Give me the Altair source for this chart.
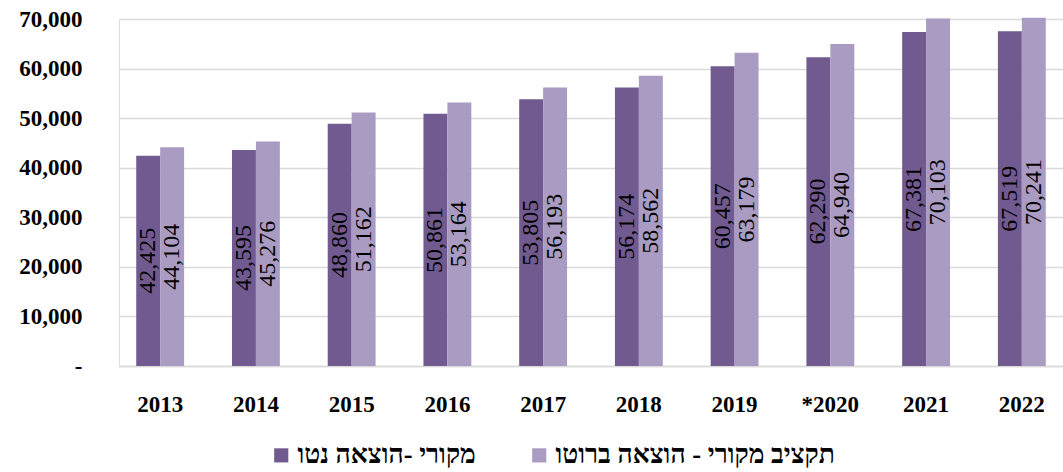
import altair as alt
import pandas as pd

years = ["2013", "2014", "2015", "2016", "2017", "2018", "2019", "*2020", "2021", "2022"]
net = [42425, 43595, 48860, 50861, 53805, 56174, 60457, 62290, 67381, 67519]
gross = [44104, 45276, 51162, 53164, 56193, 58562, 63179, 64940, 70103, 70241]
series_names = ["מקורי -הוצאה נטו", "תקציב מקורי - הוצאה ברוטו"]
colors = ["#715a8f", "#a99bc1"]

rows = []
for i, y in enumerate(years):
    rows.append({"year": y, "series": series_names[0], "value": net[i]})
    rows.append({"year": y, "series": series_names[1], "value": gross[i]})
df = pd.DataFrame(rows)

W, H = 944, 347
serif = "Liberation Serif"

x = alt.X("year:N", sort=years, title=None,
          scale=alt.Scale(paddingInner=0.5, paddingOuter=0.18),
          axis=alt.Axis(labelAngle=0, labelFont=serif, labelFontSize=23, labelFontWeight="bold",
                        labelColor="#000", labelPadding=27, ticks=False,
                        domainColor="#d9d9d9", domainWidth=1.5, grid=False))
xo = alt.XOffset("series:N", sort=series_names)
color = alt.Color("series:N", sort=series_names,
                  scale=alt.Scale(domain=series_names, range=colors),
                  legend=alt.Legend(title=None, orient="none", direction="horizontal",
                                    legendX=149, legendY=423, padding=0, symbolType="square",
                                    symbolSize=200, symbolStrokeWidth=0, labelFont=serif,
                                    labelFontSize=26.5, labelFontWeight="bold", labelColor="#000",
                                    labelOffset=3, columnPadding=50, labelLimit=500))

bars = alt.Chart(df).mark_bar().encode(
    x=x, xOffset=xo,
    y=alt.Y("value:Q", title=None,
            scale=alt.Scale(domain=[0, 70000], nice=False),
            axis=alt.Axis(values=[0, 10000, 20000, 30000, 40000, 50000, 60000, 70000],
                          labelExpr="datum.value == 0 ? '-\u00a0\u00a0\u00a0' : format(datum.value, ',')",
                          labelFont=serif, labelFontSize=23, labelFontWeight="bold",
                          labelColor="#000", labelPadding=37, ticks=False, domain=False,
                          gridColor="#d9d9d9", gridWidth=1.5)),
    color=color,
)

labels = alt.Chart(df).transform_calculate(
    half="datum.value / 2"
).mark_text(angle=270, align="center", baseline="middle", font=serif, fontSize=24,
            color="#000").encode(
    x=alt.X("year:N", sort=years),
    xOffset=xo,
    y=alt.Y("half:Q"),
    text=alt.Text("value:Q", format=","),
)

chart = alt.layer(bars, labels).properties(
    width=W, height=H,
    autosize=alt.AutoSizeParams(type="none"),
    padding={"left": 119, "top": 19, "right": 0, "bottom": 106},
).configure_view(stroke=None).configure(background="white")

chart.save("out.html", embed_options={"renderer": "svg", "actions": False})
